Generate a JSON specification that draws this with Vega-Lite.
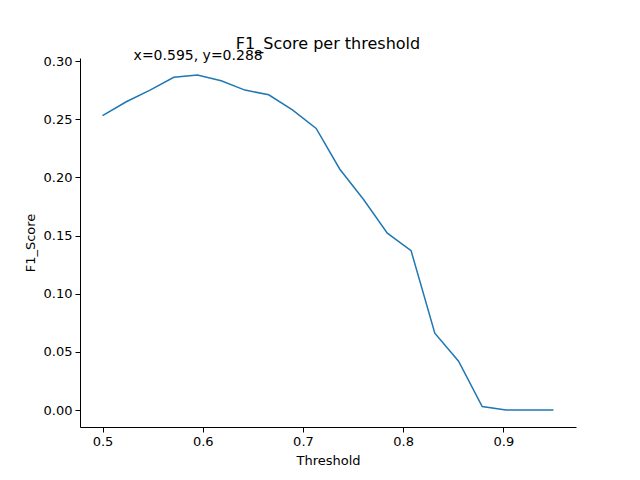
{
  "$schema": "https://vega.github.io/schema/vega-lite/v6.json",
  "width": 496,
  "height": 369,
  "autosize": "none",
  "padding": {"left": 80, "top": 58, "right": 64, "bottom": 53},
  "background": "white",
  "title": {"text": "F1_Score per threshold", "fontSize": 16, "font": "DejaVu Sans", "fontWeight": "normal", "color": "black", "offset": -3},
  "layer": [
    {
      "data": {"values": [
        {"t": 0.5, "f": 0.253}, {"t": 0.5237, "f": 0.265}, {"t": 0.5474, "f": 0.275},
        {"t": 0.5711, "f": 0.286}, {"t": 0.5947, "f": 0.288}, {"t": 0.6184, "f": 0.283},
        {"t": 0.6421, "f": 0.275}, {"t": 0.6658, "f": 0.271}, {"t": 0.6895, "f": 0.258},
        {"t": 0.7132, "f": 0.242}, {"t": 0.7368, "f": 0.207}, {"t": 0.7605, "f": 0.181},
        {"t": 0.7842, "f": 0.152}, {"t": 0.8079, "f": 0.137}, {"t": 0.8316, "f": 0.066},
        {"t": 0.8553, "f": 0.042}, {"t": 0.8789, "f": 0.003}, {"t": 0.9026, "f": 0.0},
        {"t": 0.9263, "f": 0.0}, {"t": 0.95, "f": 0.0}
      ]},
      "mark": {"type": "line", "color": "#1f77b4", "strokeWidth": 1.5},
      "encoding": {
        "x": {"field": "t", "type": "quantitative", "scale": {"domain": [0.4775, 0.9725], "nice": false, "zero": false},
          "axis": {"values": [0.5, 0.6, 0.7, 0.8, 0.9], "format": ".1f", "title": "Threshold"}},
        "y": {"field": "f", "type": "quantitative", "scale": {"domain": [-0.0146, 0.3026], "nice": false, "zero": false},
          "axis": {"values": [0, 0.05, 0.1, 0.15, 0.2, 0.25, 0.3], "format": ".2f", "title": "F1_Score"}}
      }
    },
    {
      "data": {"values": [{"t": 0.531, "f": 0.304, "label": "x=0.595, y=0.288"}]},
      "mark": {"type": "text", "align": "left", "baseline": "middle", "fontSize": 14, "font": "DejaVu Sans", "color": "black", "clip": false},
      "encoding": {
        "x": {"field": "t", "type": "quantitative"},
        "y": {"field": "f", "type": "quantitative"},
        "text": {"field": "label"}
      }
    }
  ],
  "config": {
    "view": {"stroke": null},
    "axis": {"grid": false, "domainColor": "black", "tickColor": "black", "labelColor": "black", "titleColor": "black",
      "labelFont": "DejaVu Sans", "titleFont": "DejaVu Sans", "labelFontSize": 13, "titleFontSize": 13, "titleFontWeight": "normal",
      "tickSize": 5, "labelPadding": 3, "titlePadding": 6}
  }
}
